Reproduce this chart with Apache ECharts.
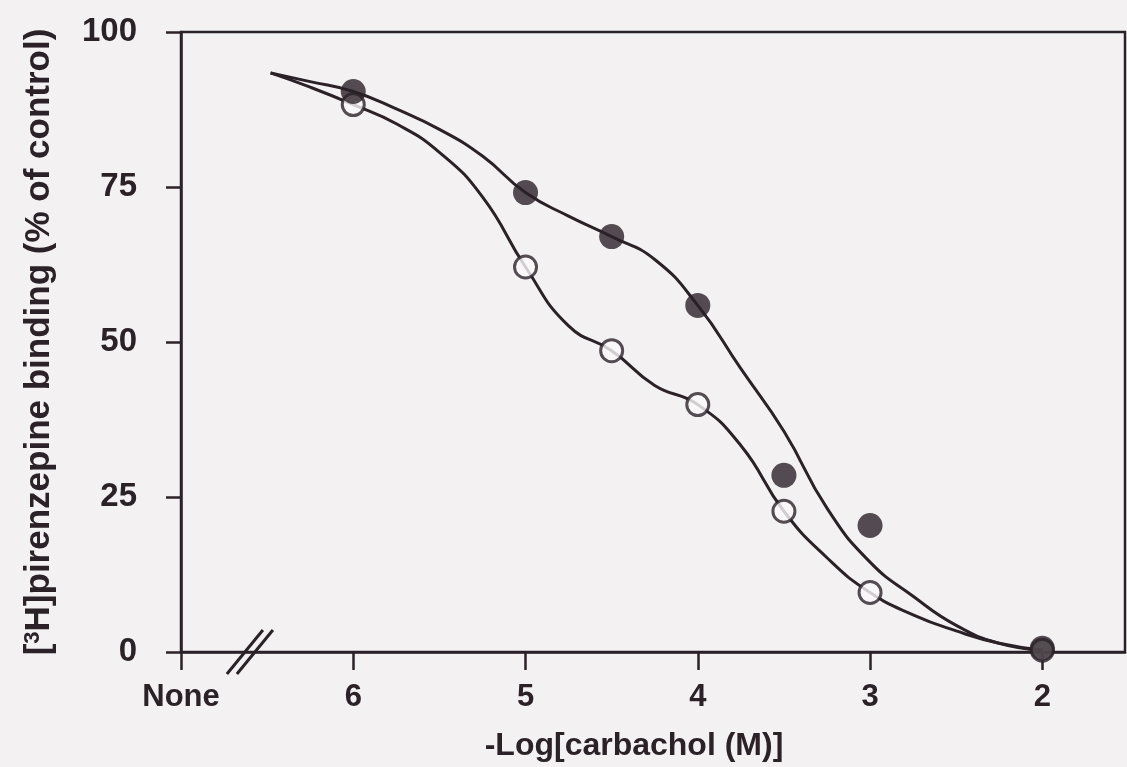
<!DOCTYPE html>
<html>
<head>
<meta charset="utf-8">
<script src="https://cdn.jsdelivr.net/npm/echarts@6/dist/echarts.min.js"></script>
<style>
html,body{margin:0;padding:0;background:#f4f1f3;}
#chart{width:1127px;height:767px;}
</style>
</head>
<body>
<div id="chart"></div>
<script>
// Axis ticks
const xTickValues = [7, 6, 5, 4, 3, 2];
const xTickLabels = ['None', '6', '5', '4', '3', '2'];
const yTickValues = [0, 25, 50, 75, 100];

// Measured points: closed circles
const filledX = [6, 5, 4.5, 4, 3.5, 3, 2];
const filledY = [90.4, 74.1, 67.0, 55.9, 28.5, 20.4, 0.6];

// Measured points: open circles
const openX = [6, 5, 4.5, 4, 3.5, 3, 2];
const openY = [88.3, 62.1, 48.6, 39.9, 22.7, 9.6, 0.3];

// Fitted curves
const fitX      = [6.48, 6.25, 6.00, 5.75, 5.50, 5.25, 5.00, 4.75, 4.50, 4.25, 4.00, 3.75, 3.50, 3.25, 3.00, 2.75, 2.50, 2.25, 2.00];
const fitFilledY = [93.4, 92.0, 90.4, 87.6, 84.3, 80.0, 74.1, 70.3, 67.0, 63.3, 55.9, 45.7, 35.6, 23.2, 14.5, 9.0, 4.3, 1.4, 0.3];
const fitOpenY   = [93.4, 91.1, 88.3, 85.2, 80.6, 73.4, 62.1, 52.6, 48.6, 43.0, 39.9, 33.3, 22.7, 15.2, 9.6, 6.0, 3.4, 1.4, 0.3];

const INK = '#2b2228';
const FONT = 'Liberation Sans';
const zip = (a, b) => a.map((v, i) => [v, b[i]]);

const chart = echarts.init(document.getElementById('chart'), null, {renderer: 'canvas'});

chart.setOption({
  backgroundColor: '#f4f1f3',
  animation: false,
  grid: {
    left: 181, right: 2, top: 32, bottom: 113,
    show: true, borderColor: INK, borderWidth: 2.5, backgroundColor: 'transparent'
  },
  xAxis: {
    type: 'value', inverse: true, min: 1.52, max: 7,
    name: '-Log[carbachol (M)]', nameLocation: 'middle', nameGap: 78,
    nameTextStyle: {fontFamily: FONT, fontWeight: 'bold', fontSize: 32, color: INK, padding: [0, 38, 0, 0]},
    axisLine: {lineStyle: {color: INK, width: 2.5}},
    axisTick: {show: true, length: 18, lineStyle: {color: INK, width: 2.5}, customValues: xTickValues},
    axisLabel: {
      fontFamily: FONT, fontWeight: 'bold', fontSize: 31, color: INK, margin: 30,
      customValues: xTickValues,
      formatter: v => xTickLabels[xTickValues.indexOf(v)] ?? ''
    },
    splitLine: {show: false}
  },
  yAxis: {
    type: 'value', min: 0, max: 100, interval: 25,
    name: '[{sup|3}H]pirenzepine binding (% of control)', nameLocation: 'middle', nameGap: 124,
    nameTextStyle: {
      fontFamily: FONT, fontWeight: 'bold', fontSize: 35, color: INK,
      rich: {sup: {fontFamily: FONT, fontWeight: 'bold', fontSize: 22, color: INK, verticalAlign: 'top', padding: [0, 0, 10, 0]}}
    },
    axisLine: {show: true, lineStyle: {color: INK, width: 2.5}},
    axisTick: {show: true, length: 15, lineStyle: {color: INK, width: 2.5}, customValues: yTickValues},
    axisLabel: {fontFamily: FONT, fontWeight: 'bold', fontSize: 33, color: INK, margin: 44, customValues: yTickValues},
    splitLine: {show: false}
  },
  series: [
    {
      type: 'line', data: zip(fitX, fitOpenY), smooth: 0.5,
      showSymbol: false, symbol: 'none', lineStyle: {color: INK, width: 3}, z: 2
    },
    {
      type: 'line', data: zip(fitX, fitFilledY), smooth: 0.5,
      showSymbol: false, symbol: 'none', lineStyle: {color: INK, width: 3}, z: 2
    },
    {
      type: 'scatter', data: zip(openX, openY), symbol: 'circle', symbolSize: 22,
      itemStyle: {color: '#fbf9fa', borderColor: INK, borderWidth: 3}, z: 3
    },
    {
      type: 'scatter', data: zip(filledX, filledY), symbol: 'circle', symbolSize: 25,
      itemStyle: {color: INK}, z: 4
    }
  ]
});

// Axis-break mark "//" placed through the axis scale
function drawBreak() {
  const c = chart.convertToPixel({xAxisIndex: 0, yAxisIndex: 0}, [6.60, 0]);
  const mk = dx => ({
    type: 'line', z: 10,
    shape: {x1: c[0] + dx - 18, y1: c[1] + 22, x2: c[0] + dx + 18, y2: c[1] - 22},
    style: {stroke: INK, lineWidth: 3}
  });
  chart.setOption({graphic: [mk(-5), mk(5)]});
}
drawBreak();
</script>
</body>
</html>
